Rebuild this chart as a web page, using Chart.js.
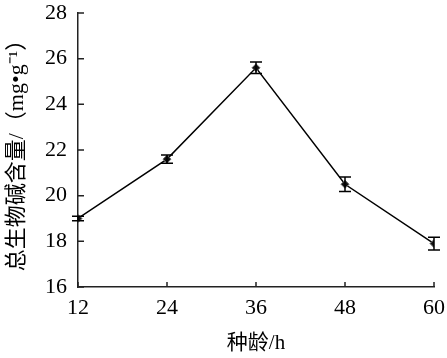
<!DOCTYPE html>
<html lang="zh-CN">
<head>
  <meta charset="UTF-8">
  <title>总生物碱含量</title>
  <script src="https://cdn.jsdelivr.net/npm/chart.js"></script>
  <style>
    html, body { margin: 0; padding: 0; background: #fff; }
    #box { width: 447px; height: 358px; }
  </style>
</head>
<body>
  <div id="box"><canvas id="chart"></canvas></div>

  <script>
    // valores
    const ages = [12, 24, 36, 48, 60];
    const contents = [19.0, 21.6, 25.6, 20.5, 17.9];
    const errors = [0.1, 0.18, 0.25, 0.32, 0.28];
    const xTicks = [12, 24, 36, 48, 60];
    const yTicks = [16, 18, 20, 22, 24, 26, 28];

    const serif = '"Liberation Serif", "Noto Sans CJK SC", serif';

    // ticks para dentro + barras de erro
    const extras = {
      id: 'extras',
      afterDatasetsDraw(chart) {
        const { ctx, scales: { x, y } } = chart;
        ctx.save();
        ctx.strokeStyle = '#222';
        ctx.lineWidth = 1.5;
        ctx.beginPath();
        xTicks.forEach(v => {
          const px = x.getPixelForValue(v);
          ctx.moveTo(px, y.bottom);
          ctx.lineTo(px, y.bottom - 5);
        });
        yTicks.forEach(v => {
          const py = y.getPixelForValue(v);
          ctx.moveTo(x.left, py);
          ctx.lineTo(x.left + 6, py);
        });
        ctx.stroke();

        ctx.strokeStyle = '#000';
        ctx.beginPath();
        ages.forEach((a, i) => {
          const px = x.getPixelForValue(a);
          const top = y.getPixelForValue(contents[i] + errors[i]);
          const bot = y.getPixelForValue(contents[i] - errors[i]);
          ctx.moveTo(px, top); ctx.lineTo(px, bot);
          ctx.moveTo(px - 6, top); ctx.lineTo(px + 6, top);
          ctx.moveTo(px - 6, bot); ctx.lineTo(px + 6, bot);
        });
        ctx.stroke();
        ctx.restore();
      }
    };

    new Chart(document.getElementById('chart'), {
      type: 'line',
      data: {
        datasets: [{
          data: ages.map((a, i) => ({ x: a, y: contents[i] })),
          borderColor: '#000',
          borderWidth: 1.5,
          pointStyle: 'rectRot',
          pointRadius: 4,
          pointBackgroundColor: '#111',
          pointBorderColor: '#666',
          pointBorderWidth: 1,
          tension: 0
        }]
      },
      options: {
        responsive: true,
        maintainAspectRatio: false,
        animation: false,
        layout: { padding: { left: 0, right: 13, top: 13, bottom: 0 } },
        plugins: { legend: { display: false }, tooltip: { enabled: false } },
        scales: {
          x: {
            type: 'linear',
            min: 12,
            max: 60,
            afterBuildTicks: s => { s.ticks = xTicks.map(v => ({ value: v })); },
            afterFit: s => { s.height = 71; s.paddingLeft = 0; s.paddingRight = 0; },
            grid: { display: false, drawTicks: false },
            border: { display: true, color: '#222', width: 1.5 },
            ticks: { color: '#000', padding: 8, font: { family: serif, size: 22 } },
            title: {
              display: true,
              text: '种龄/h',
              color: '#000',
              padding: { top: 0, bottom: 2 },
              font: { family: serif, size: 21 }
            }
          },
          y: {
            min: 16,
            max: 28,
            afterBuildTicks: s => { s.ticks = yTicks.map(v => ({ value: v })); },
            afterFit: s => { s.width = 78; s.paddingTop = 0; s.paddingBottom = 0; },
            grid: { display: false, drawTicks: false },
            border: { display: true, color: '#222', width: 1.5 },
            ticks: { color: '#000', padding: 11, font: { family: serif, size: 22 } },
            title: {
              display: true,
              text: '总生物碱含量/（mg•g⁻¹）',
              color: '#000',
              padding: { top: 4, bottom: 0 },
              font: { family: serif, size: 22 }
            }
          }
        }
      },
      plugins: [extras]
    });
  </script>
</body>
</html>
